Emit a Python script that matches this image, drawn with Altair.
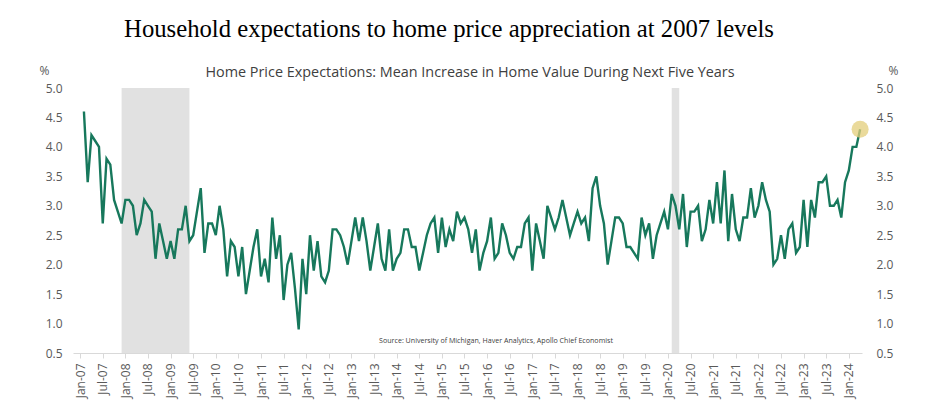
import json
import altair as alt
import pandas as pd

# Home price expectations (mean % increase over next five years), monthly Feb-2007 .. Apr-2024
values = [
    4.6, 3.4, 4.2, 4.1, 4.0, 2.7, 3.8, 3.7, 3.1, 2.9, 2.7,           # Feb-07 .. Dec-07
    3.1, 3.1, 3.0, 2.5, 2.7, 3.1, 3.0, 2.9, 2.1, 2.7, 2.4, 2.1,      # 2008
    2.4, 2.1, 2.6, 2.6, 3.0, 2.4, 2.5, 2.9, 3.3, 2.2, 2.7, 2.7,      # 2009
    2.5, 3.0, 2.6, 1.8, 2.4, 2.3, 1.8, 2.3, 1.5, 1.9, 2.3, 2.6,      # 2010
    1.8, 2.1, 1.7, 2.8, 2.1, 2.5, 1.4, 2.0, 2.2, 1.6, 0.9, 2.1,      # 2011
    1.5, 2.5, 1.9, 2.4, 1.8, 1.7, 1.9, 2.6, 2.6, 2.5, 2.3, 2.0,      # 2012
    2.4, 2.8, 2.4, 2.8, 2.4, 1.9, 2.3, 2.7, 2.1, 1.9, 2.6, 1.9,      # 2013
    2.1, 2.2, 2.6, 2.6, 2.3, 2.3, 1.9, 2.2, 2.5, 2.7, 2.8, 2.2,      # 2014
    2.8, 2.3, 2.6, 2.4, 2.9, 2.7, 2.8, 2.6, 2.2, 2.6, 1.9, 2.2,      # 2015
    2.4, 2.8, 2.1, 2.2, 2.7, 2.5, 2.2, 2.1, 2.3, 2.3, 2.7, 2.8,      # 2016
    1.9, 2.7, 2.4, 2.1, 3.0, 2.8, 2.6, 2.8, 3.1, 2.8, 2.5, 2.7,      # 2017
    2.9, 2.7, 2.8, 2.4, 3.3, 3.5, 3.0, 2.7, 2.0, 2.4, 2.8, 2.8,      # 2018
    2.7, 2.3, 2.3, 2.2, 2.1, 2.8, 2.5, 2.7, 2.1, 2.5, 2.7, 2.9,      # 2019
    2.6, 3.2, 3.0, 2.6, 3.2, 2.3, 2.9, 2.9, 3.0, 2.4, 2.6, 3.1,      # 2020
    2.7, 3.4, 2.7, 3.6, 2.4, 3.2, 2.6, 2.4, 2.8, 2.8, 3.3, 2.8,      # 2021
    3.0, 3.4, 3.1, 2.9, 2.0, 2.1, 2.5, 2.1, 2.6, 2.7, 2.2, 2.3,      # 2022
    3.1, 2.3, 3.1, 2.8, 3.4, 3.4, 3.5, 3.0, 3.0, 3.1, 2.8, 3.4,      # 2023
    3.6, 4.0, 4.0, 4.3,                                              # Jan-24 .. Apr-24
]
first_month = 1  # months after Jan-2007
months = list(range(first_month, first_month + len(values)))

recession_start = [11, 157]   # Dec-2007, Feb-2020
recession_end = [29, 159]     # Jun-2009, Apr-2020

tick_values = list(range(0, 205, 6))
tick_labels = [("Jan-" if v % 12 == 0 else "Jul-") + f"{7 + v // 12:02d}" for v in tick_values]
y_ticks = [0.5, 1.0, 1.5, 2.0, 2.5, 3.0, 3.5, 4.0, 4.5, 5.0]

title_text = "Household expectations to home price appreciation at 2007 levels"
subtitle_text = "Home Price Expectations: Mean Increase in Home Value During Next Five Years"
source_text = "Source: University of Michigan, Haver Analytics, Apollo Chief Economist"

W, H = 789, 265
LINE = "#17785C"
GREY = "#595959"
FONT = "Open Sans"

df = pd.DataFrame({"m": months, "v": values})
last = df.tail(1)
rec = pd.DataFrame({"s": recession_start, "e": recession_end})

xscale = alt.Scale(domain=[-1.9, 207.5], nice=False, zero=False)
yscale = alt.Scale(domain=[0.5, 5.0], nice=False, zero=False)

label_expr = json.dumps(tick_labels) + "[round(datum.value / 6)]"
xaxis = alt.Axis(
    values=tick_values, labelExpr=label_expr, labelAngle=-90, labelAlign="right",
    labelBaseline="middle", labelPadding=5, labelFontSize=12, labelColor=GREY,
    labelFont=FONT, grid=False, domainColor="#D9D9D9", tickColor="#D9D9D9",
    tickSize=5, title=None)

shade = alt.Chart(rec).mark_rect(color="#E1E1E1").encode(
    x=alt.X("s:Q", scale=xscale, axis=xaxis),
    x2="e:Q",
    y=alt.value(0),
    y2=alt.value(H),
)

line = alt.Chart(df).mark_line(color=LINE, strokeWidth=2.4).encode(
    x=alt.X("m:Q", scale=xscale, axis=xaxis),
    y=alt.Y("v:Q", scale=yscale, axis=alt.Axis(
        values=y_ticks, format=".1f", orient="left", grid=False, domain=False, ticks=False,
        labelPadding=11, labelFontSize=12, labelColor=GREY, labelFont=FONT,
        title="%", titleAngle=0, titleX=-29, titleY=-18, titleAlign="center",
        titleBaseline="middle", titleFontSize=12, titleFontWeight="normal",
        titleColor=GREY, titleFont=FONT)),
)

dot = alt.Chart(last).mark_circle(color="#E3CD7A", opacity=0.75, size=290).encode(
    x=alt.X("m:Q", scale=xscale, axis=xaxis),
    y=alt.Y("v:Q", scale=yscale, axis=alt.Axis(
        values=y_ticks, format=".1f", orient="right", grid=False, domain=False, ticks=False,
        labelPadding=14, labelFontSize=12, labelColor=GREY, labelFont=FONT,
        title="%", titleAngle=0, titleX=31, titleY=-18, titleAlign="center",
        titleBaseline="middle", titleFontSize=12, titleFontWeight="normal",
        titleColor=GREY, titleFont=FONT)),
)

texts = pd.DataFrame({"t": [title_text, subtitle_text, source_text]})

title = alt.Chart(texts.iloc[[0]]).mark_text(
    font="Liberation Serif", fontSize=24.7, color="#000000", align="center", baseline="middle"
).encode(text="t:N", x=alt.value(376), y=alt.value(-58))

subtitle = alt.Chart(texts.iloc[[1]]).mark_text(
    font=FONT, fontSize=14.4, color="#404040", align="center", baseline="middle"
).encode(text="t:N", x=alt.value(397), y=alt.value(-15))

source = alt.Chart(texts.iloc[[2]]).mark_text(
    font=FONT, fontSize=7.1, color="#404040", align="center", baseline="middle"
).encode(text="t:N", x=alt.value(423), y=alt.value(253))

chart = alt.layer(shade, line, dot, title, subtitle, source).resolve_scale(
    y="independent"
).properties(
    width=W, height=H,
    autosize=alt.AutoSizeParams(type="none"),
    padding={"left": 65, "top": 80, "right": 70, "bottom": 48},
    background="white",
).configure_view(stroke=None)

chart.save("out.html", embed_options={"renderer": "svg", "actions": False})
